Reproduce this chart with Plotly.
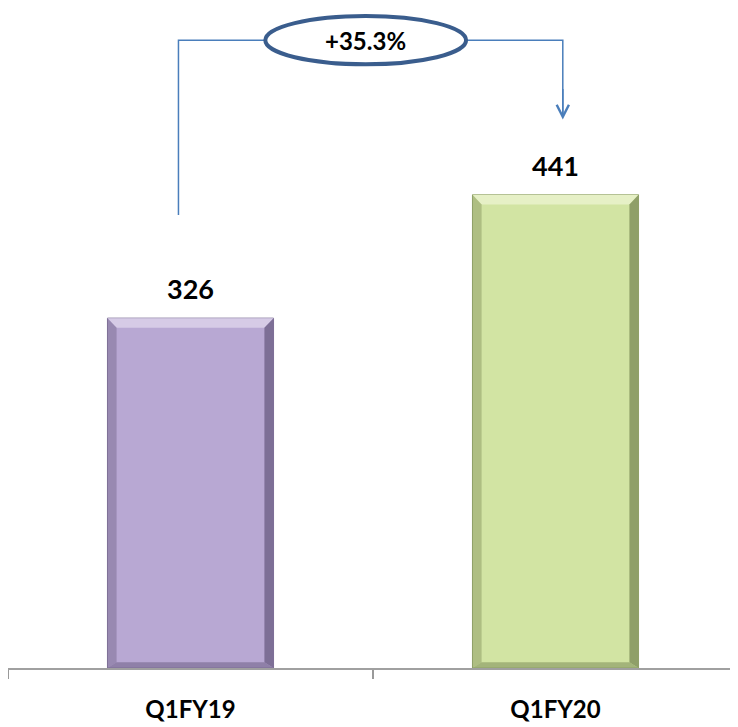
import plotly.graph_objects as go

# ---------------- data ----------------
quarters = ['Q1FY19', 'Q1FY20']
values = [326, 441]
growth_label = '+35.3%'

bar_colors = ['#b8a8d3', '#d2e4a3']
edge_dark = ['#7d6f96', '#8f9f68']
edge_light = ['#d6cbe6', '#e6f0c6']

BAR_W = 0.455
FONT = 'Lato'

fig = go.Figure()

fig.add_trace(go.Bar(x=quarters, y=values, width=BAR_W,
                     marker=dict(color=bar_colors, line=dict(color=edge_dark, width=1)),
                     showlegend=False, hoverinfo='x+y'))

# bevel look drawn around each bar (in data coords)
shapes = []
bx = 0.025   # horizontal bevel size (x units)
by = 9       # vertical bevel size (y units)
for i, v in enumerate(values):
    x0, x1 = i - BAR_W / 2, i + BAR_W / 2
    # top bevel (light)
    shapes.append(dict(type='path', xref='x', yref='y', layer='above', line=dict(width=0),
                       fillcolor=edge_light[i],
                       path=f'M {x0},{v} L {x1},{v} L {x1-bx},{v-by} L {x0+bx},{v-by} Z'))
    # right bevel (dark)
    shapes.append(dict(type='path', xref='x', yref='y', layer='above', line=dict(width=0),
                       fillcolor=edge_dark[i],
                       path=f'M {x1},{v} L {x1},0 L {x1-bx},{by*0.6} L {x1-bx},{v-by} Z'))
    # left bevel (mid)
    shapes.append(dict(type='path', xref='x', yref='y', layer='above', line=dict(width=0),
                       fillcolor=edge_dark[i], opacity=0.55,
                       path=f'M {x0},{v} L {x0},0 L {x0+bx},{by*0.6} L {x0+bx},{v-by} Z'))
    # bottom bevel
    shapes.append(dict(type='path', xref='x', yref='y', layer='above', line=dict(width=0),
                       fillcolor=edge_dark[i], opacity=0.7,
                       path=f'M {x0},0 L {x1},0 L {x1-bx},{by*0.6} L {x0+bx},{by*0.6} Z'))

# growth connector: up from first bar, across, down to second bar
top_y = max(values) + 144
left_x, right_x = -0.033, 1.02
line_col = '#4a7ebb'
shapes.append(dict(type='path', xref='x', yref='y', line=dict(color=line_col, width=1.5),
                   path=f'M {left_x},{values[0]+96} L {left_x},{top_y} L {right_x},{top_y} L {right_x},{values[1]+74}'))
ell_cx, ell_w, ell_h = 0.48, 0.55, 45
shapes.append(dict(type='circle', xref='x', yref='y',
                   x0=ell_cx - ell_w / 2, x1=ell_cx + ell_w / 2,
                   y0=top_y - ell_h / 2, y1=top_y + ell_h / 2,
                   fillcolor='white', line=dict(color='#3a5d8d', width=4)))

annotations = [
    dict(x=q, y=v, text=f'<b>{v}</b>', showarrow=False, yanchor='bottom', yshift=11,
         font=dict(family=FONT, size=27, color='black'))
    for q, v in zip(quarters, values)
]
annotations.append(dict(x=ell_cx, y=top_y, text=f'<b>{growth_label}</b>', showarrow=False,
                        font=dict(family=FONT, size=24, color='black')))
# arrow head
annotations.append(dict(x=right_x, y=values[1] + 70, ax=right_x, ay=values[1] + 100,
                        xref='x', yref='y', axref='x', ayref='y', text='', showarrow=True,
                        arrowhead=5, arrowsize=1.5, arrowwidth=1.6, arrowcolor=line_col))

# page has an 8px body margin, so the figure is sized to fit inside it
fig.update_layout(
    width=730, height=719,
    margin=dict(l=0, r=0, t=0, b=59),
    paper_bgcolor='white', plot_bgcolor='white',
    shapes=shapes,
    annotations=annotations,
    xaxis=dict(type='category', range=[-0.5, 1.5], tickson='boundaries',
               ticks='outside', ticklen=9, tickcolor='#9a9a9a', tickwidth=1.5,
               showline=True, linecolor='#a0a0a0', linewidth=1.5,
               showgrid=False, ticklabelstandoff=19,
               tickfont=dict(family=FONT, size=24, color='black'),
               tickprefix='<b>', ticksuffix='</b>'),
    yaxis=dict(range=[0, 615], visible=False, showgrid=False, zeroline=False),
)

fig.write_html('out.html')
